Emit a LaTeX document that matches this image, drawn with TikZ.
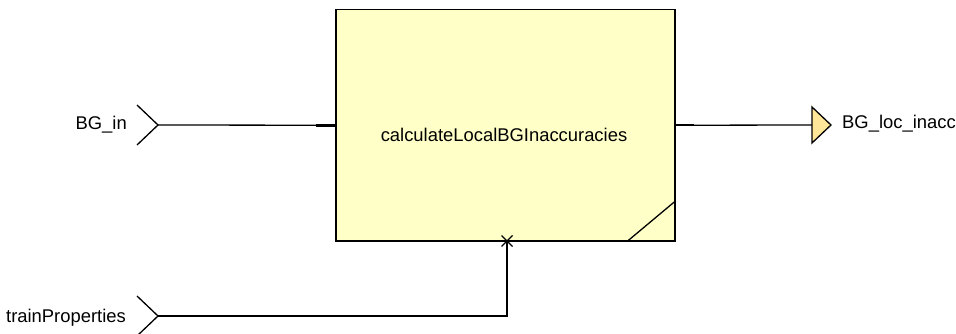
\documentclass[tikz,border=0pt]{standalone}
\usepackage{fontspec}
\setmainfont{Liberation Sans}
\usepackage{tikz}
\usetikzlibrary{calc}
\definecolor{BlockFill}{HTML}{FFFFC8}
\definecolor{PortFill}{HTML}{FFE699}

\begin{document}
\begin{tikzpicture}[
  x=1pt, y=-1pt,
  font=\fontsize{18.4}{20}\selectfont,
  block/.style={draw, line width=1.5pt, fill=BlockFill, minimum width=339pt, minimum height=231.5pt, inner sep=0pt},
  wire/.style={line width=1.3pt},
  portlabel/.style={inner sep=0pt}
]
  \useasboundingbox (0,0) rectangle (956,334);

  % block
  \node[block] (calcBlock) at (505.5,125.25) {};
  \node[portlabel] (calcName) at (504,134.5) {calculateLocalBGInaccuracies};
  \draw[wire] ($(calcBlock.south east)+(-49,0)$) -- ($(calcBlock.south east)+(0,-41)$);

  % ports
  \coordinate (BGin) at (158,125);
  \coordinate (trainIn) at (158,316);
  \coordinate (BGout) at (812,125);
  \coordinate (trainPin) at (507,241);

  \draw[wire] ($(BGin)+(-21,-20)$) -- (BGin) -- ($(BGin)+(-21,20)$);
  \draw[wire] ($(trainIn)+(-21,-20)$) -- (trainIn) -- ($(trainIn)+(-21,20)$);
  \draw[wire, fill=PortFill, line join=miter] ($(BGout)+(0,-18)$) -- ($(BGout)+(19,0)$) -- ($(BGout)+(0,18)$) -- cycle;

  \node[portlabel, anchor=base east] (BGinLabel) at (127,129.5) {BG\_in};
  \node[portlabel, anchor=base east] (trainLabel) at (126,322.5) {trainProperties};
  \node[portlabel, anchor=base west] (BGoutLabel) at (842,128.5) {BG\_loc\_inacc};

  % connectors
  \draw[wire] (BGin) -- (calcBlock.west);
  \draw[line width=3pt] ($(calcBlock.west)+(-19,0)$) -- (calcBlock.west);
  \draw[wire] (calcBlock.east) -- (BGout);
  \draw[line width=1.8pt] (calcBlock.east) -- ++(18,0);
  \draw[wire] (trainIn) -| (trainPin);
  \draw[wire] ($(trainPin)+(-5.5,-5.5)$) -- ($(trainPin)+(5.5,5.5)$);
  \draw[wire] ($(trainPin)+(-5.5,5.5)$) -- ($(trainPin)+(5.5,-5.5)$);
\end{tikzpicture}
\end{document}
